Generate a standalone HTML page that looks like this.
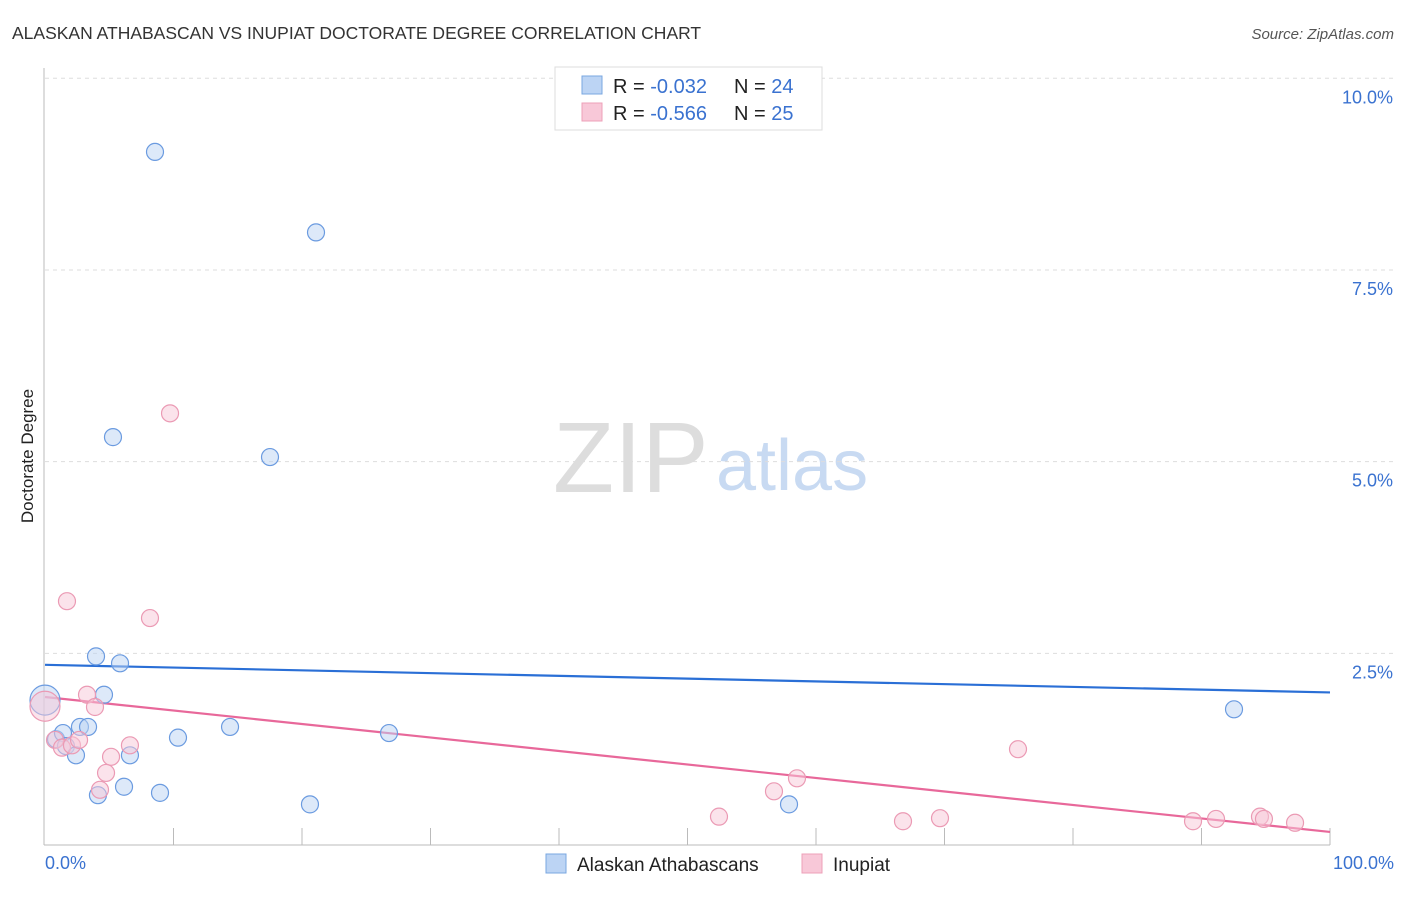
<!DOCTYPE html>
<html><head><meta charset="utf-8"><style>
body{margin:0;background:#fff;font-family:"Liberation Sans",sans-serif;}
svg text{font-family:"Liberation Sans",sans-serif;}
</style></head><body>
<svg width="1406" height="892">
<text x="12" y="39" font-size="17.5" fill="#333">ALASKAN ATHABASCAN VS INUPIAT DOCTORATE DEGREE CORRELATION CHART</text>
<text x="1394" y="39" font-size="15" fill="#555" font-style="italic" text-anchor="end">Source: ZipAtlas.com</text>
<text x="33" y="456" font-size="17" fill="#222" text-anchor="middle" transform="rotate(-90 33 456)">Doctorate Degree</text>
<text x="553" y="492" font-size="100" fill="#ddd" font-family="Liberation Serif">ZIP</text>
<text x="716" y="490" font-size="72" fill="#c8daf2">atlas</text>
<g id="grid"></g><g id="axes"></g><g id="trend"></g><g id="pts"></g>
<g>
<rect x="555" y="67" width="267" height="63" fill="#fff" stroke="#ddd"/>
<rect x="582" y="76" width="20" height="18" fill="#bcd4f4" stroke="#7aa7e0"/>
<rect x="582" y="103" width="20" height="18" fill="#f8c8d8" stroke="#eea0b8"/>
<text x="613" y="93" font-size="20" fill="#222">R = <tspan fill="#3a72d0">-0.032</tspan></text>
<text x="734" y="93" font-size="20" fill="#222">N = <tspan fill="#3a72d0">24</tspan></text>
<text x="613" y="120" font-size="20" fill="#222">R = <tspan fill="#3a72d0">-0.566</tspan></text>
<text x="734" y="120" font-size="20" fill="#222">N = <tspan fill="#3a72d0">25</tspan></text>
</g>
<g>
<rect x="546" y="854" width="20" height="19" fill="#bcd4f4" stroke="#7aa7e0"/>
<text x="577" y="871" font-size="19" fill="#222">Alaskan Athabascans</text>
<rect x="802" y="854" width="20" height="19" fill="#f8c8d8" stroke="#eea0b8"/>
<text x="833" y="871" font-size="19" fill="#222">Inupiat</text>
</g>
</svg>
<script>
const yTicks=[2.5,5.0,7.5,10.0];
const yTickLabels=["2.5%","5.0%","7.5%","10.0%"];
const xTickLabels=["0.0%","100.0%"];
const blueX=[8.56,21.09,5.29,17.51,3.97,5.84,4.59,0,2.72,3.35,14.40,10.35,0.86,26.77,1.40,1.63,2.41,6.61,6.15,4.12,8.95,20.62,57.90,92.53];
const blueY=[9.04,7.99,5.32,5.06,2.46,2.37,1.96,1.89,1.54,1.54,1.54,1.40,1.38,1.46,1.46,1.29,1.17,1.17,0.76,0.65,0.68,0.53,0.53,1.77];
const pinkX=[1.71,8.17,9.73,3.27,3.89,0,0.78,1.32,2.10,2.65,6.61,5.14,4.75,4.28,52.45,56.73,58.52,66.77,69.65,75.72,89.34,91.13,94.55,94.86,97.28];
const pinkY=[3.18,2.96,5.63,1.96,1.80,1.81,1.37,1.27,1.30,1.37,1.30,1.15,0.94,0.72,0.37,0.70,0.87,0.31,0.35,1.25,0.31,0.34,0.37,0.34,0.29];
const blueTrend=[2.35,1.99];
const pinkTrend=[1.93,0.17];
const NS="http://www.w3.org/2000/svg";
const X=v=>45+v*12.85, Y=v=>845-v*76.67;
function mk(t,a,p){const e=document.createElementNS(NS,t);for(const k in a)e.setAttribute(k,a[k]);document.getElementById(p).appendChild(e);return e;}
yTicks.forEach((t,i)=>{
 const l=mk('line',{x1:45,x2:1394,y1:Y(t),y2:Y(t),stroke:'#ddd','stroke-dasharray':'4,4'},'grid');
 
 
 const tx=mk('text',{x:1393,y:Y(t)+25,'font-size':18,fill:'#3a72d0','text-anchor':'end'},'grid');
 tx.textContent=yTickLabels[i];
 
 
});
const ax=mk('line',{x1:44,x2:44,y1:68,y2:845,stroke:'#bbb'},'axes');


const bx=mk('line',{x1:44,x2:1330,y1:845,y2:845,stroke:'#bbb'},'axes');


for(let i=1;i<=10;i++){const t=mk('line',{x1:X(i*10),x2:X(i*10),y1:828,y2:845,stroke:'#bbb'},'axes');
 
 }
[[0,'start',45],[100,'end',1394]].forEach((d,i)=>{const t=mk('text',{x:d[2],y:869,'font-size':18,fill:'#3a72d0','text-anchor':d[1]},'axes');t.textContent=xTickLabels[i];
 
 });
function pts(xs,ys,fill,stroke,name){xs.forEach((x,i)=>{const r=x===0?15:8.5;
 const c=mk('circle',{cx:X(x),cy:Y(ys[i]),r:r,fill:fill,'fill-opacity':0.5,stroke:stroke,'stroke-width':1.2},'pts');
 
 });}
pts(blueX,blueY,'#bcd4f4','#6b9be0','point-alaskan-athabascans');
pts(pinkX,pinkY,'#f8c8d8','#eb9ab4','point-inupiat');
const tb=mk('line',{x1:X(0),x2:X(100),y1:Y(blueTrend[0]),y2:Y(blueTrend[1]),stroke:'#2a6fd6','stroke-width':2.2},'trend');


const tp=mk('line',{x1:X(0),x2:X(100),y1:Y(pinkTrend[0]),y2:Y(pinkTrend[1]),stroke:'#e8689a','stroke-width':2.2},'trend');


</script>
</body></html>
